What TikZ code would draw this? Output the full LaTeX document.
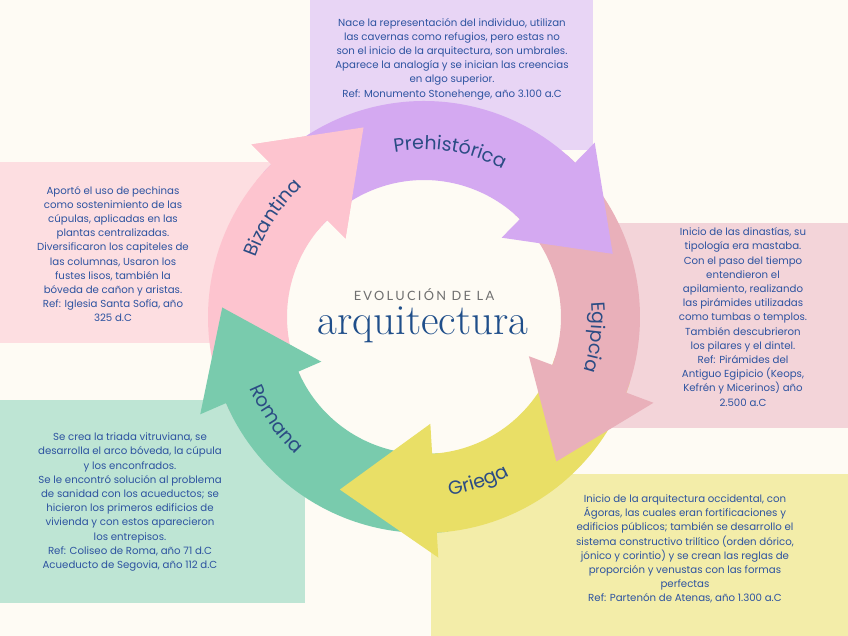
\documentclass[tikz,border=0pt]{standalone}
\usepackage{fontspec}
\setsansfont{Poppins}
\newfontfamily\capsfont[LetterSpace=18]{Lato}
\usetikzlibrary{decorations.text}
\definecolor{ArqCream}{HTML}{FEFBF4}
\definecolor{ArqLavender}{HTML}{E8D5F5}
\definecolor{ArqPurple}{HTML}{D4A9F1}
\definecolor{ArqRose}{HTML}{FDC4CF}
\definecolor{ArqRoseLight}{HTML}{FDDEE1}
\definecolor{ArqMauve}{HTML}{E9B0BA}
\definecolor{ArqMauveLight}{HTML}{F3D4D9}
\definecolor{ArqLemon}{HTML}{E9DF66}
\definecolor{ArqLemonLight}{HTML}{F3EDA9}
\definecolor{ArqMint}{HTML}{79CBAD}
\definecolor{ArqMintLight}{HTML}{BEE5D4}
\definecolor{ArqText}{HTML}{2D53A0}
\definecolor{ArqLabel}{HTML}{2B4C84}
\definecolor{ArqNavy}{HTML}{1F4E8A}
\definecolor{ArqGray}{HTML}{6F6F6F}

\begin{document}
\begin{tikzpicture}[x=1pt,y=1pt,
    desc/.style={align=center,text=ArqText,inner sep=0pt,font=\sffamily\fontsize{10.2}{14.2}\selectfont},
    lbl/.style={decorate,decoration={text along path,text align=center,
      text={|\sffamily\fontsize{19}{19}\selectfont\color{ArqLabel}|#1}}}
  ]
    \fill[ArqCream] (-424,-319) rectangle (424,317);
    % cards behind the ring
    \fill[ArqLavender] (-114,167) rectangle (169,317);
    \fill[ArqRoseLight] (-424,-26) rectangle (-144,155);
    \fill[ArqMauveLight] (176,-111) rectangle (424,94);
    \fill[ArqMintLight] (-424,-286) rectangle (-119,-83);
    \fill[ArqLemonLight] (7,-319) rectangle (424,-157);
    \fill[ArqCream] (0,0) circle[radius=137];
    % ring of arrows
    \fill[ArqRose] (206.5:216) arc[start angle=206.5,end angle=135,radius=216]
      -- (135:244) -- (107.7:199) -- (135:111) -- (135:137)
      arc[start angle=135,end angle=206.5,radius=137] -- cycle;
    \fill[ArqMint] (276.4:216) arc[start angle=276.4,end angle=203.5,radius=216]
      -- (203.5:244) -- (177.3:202) -- (203.5:112) -- (203.5:137)
      arc[start angle=203.5,end angle=276.4,radius=137] -- cycle;
    \fill[ArqLemon] (342.5:216) arc[start angle=342.5,end angle=273.4,radius=216]
      -- (273.4:241) -- (244:192) -- (273.4:107) -- (273.4:137)
      arc[start angle=273.4,end angle=342.5,radius=137] -- cycle;
    \fill[ArqMauve] (48.6:216) arc[start angle=48.6,end angle=-20.5,radius=216]
      -- (-20.5:245) -- (-47.5:196) -- (-20.5:112) -- (-20.5:137)
      arc[start angle=-20.5,end angle=48.6,radius=137] -- cycle;
    \fill[ArqPurple] (138:216) arc[start angle=138,end angle=45.6,radius=216]
      -- (45.6:244) -- (18.5:199) -- (45.6:111) -- (45.6:137)
      arc[start angle=45.6,end angle=138,radius=137] -- cycle;
    \fill[ArqRose] (141:216) arc[start angle=141,end angle=135,radius=216]
      -- (135:244) -- (107.7:199) -- (135:111) -- (135:137)
      arc[start angle=135,end angle=141,radius=137] -- cycle;
    % names on the arrows
    \path[lbl=Prehistórica] (131:167.5) arc[start angle=131,end angle=31,radius=167.5];
    \path[lbl=Bizantina] (196.7:178) arc[start angle=196.7,end angle=96.7,radius=178];
    \path[lbl=Egipcia] (43.3:168) arc[start angle=43.3,end angle=-56.7,radius=168];
    \path[lbl=Griega] (-121.7:180) arc[start angle=-121.7,end angle=-21.7,radius=180];
    \path[lbl=Romana] (164.6:188) arc[start angle=164.6,end angle=264.6,radius=188];
    % title
    \node[font=\capsfont\fontsize{12.8}{12.8}\selectfont,text=ArqGray] (evol) at (0,22) {EVOLUCIÓN DE LA};
    \node[anchor=base,font=\rmfamily\fontsize{43}{43}\selectfont\addfontfeature{LetterSpace=3},text=ArqNavy] (arq) at (-1,-18) {arquitectura};
    % descriptions
    \node[desc] (prehist) at (28,258) {Nace la representación del individuo, utilizan\\
      las cavernas como refugios, pero estas no\\
      son el inicio de la arquitectura, son umbrales.\\
      Aparece la analogía y se inician las creencias\\
      en algo superior.\\
      Ref: Monumento Stonehenge, año 3.100 a.C};
    \node[desc] (bizan) at (-311,63) {Aportó el uso de pechinas\\
      como sostenimiento de las\\
      cúpulas, aplicadas en las\\
      plantas centralizadas.\\
      Diversificaron los capiteles de\\
      las columnas, Usaron los\\
      fustes lisos, también la\\
      bóveda de cañon y aristas.\\
      Ref: Iglesia Santa Sofía, año\\
      325 d.C};
    \node[desc] (egip) at (319,0) {Inicio de las dinastías, su\\
      tipología era mastaba.\\
      Con el paso del tiempo\\
      entendieron el\\
      apilamiento, realizando\\
      las pirámides utilizadas\\
      como tumbas o templos.\\
      También descubrieron\\
      los pilares y el dintel.\\
      Ref: Pirámides del\\
      Antiguo Egipicio (Keops,\\
      Kefrén y Micerinos) año\\
      2.500 a.C};
    \node[desc] (roma) at (-294,-185) {Se crea la triada vitruviana, se\\
      desarrolla el arco bóveda, la cúpula\\
      y los enconfrados.\\
      Se le encontró solución al problema\\
      de sanidad con los acueductos; se\\
      hicieron los primeros edificios de\\
      vivienda y con estos aparecieron\\
      los entrepisos.\\
      Ref: Coliseo de Roma, año 71 d.C\\
      Acueducto de Segovia, año 112 d.C};
    \node[desc] (grie) at (261,-232) {Inicio de la arquitectura occidental, con\\
      Ágoras, las cuales eran fortificaciones y\\
      edificios públicos; también se desarrollo el\\
      sistema constructivo trilítico (orden dórico,\\
      jónico y corintio) y se crean las reglas de\\
      proporción y venustas con las formas\\
      perfectas\\
      Ref: Partenón de Atenas, año 1.300 a.C};
  \end{tikzpicture}
\end{document}
